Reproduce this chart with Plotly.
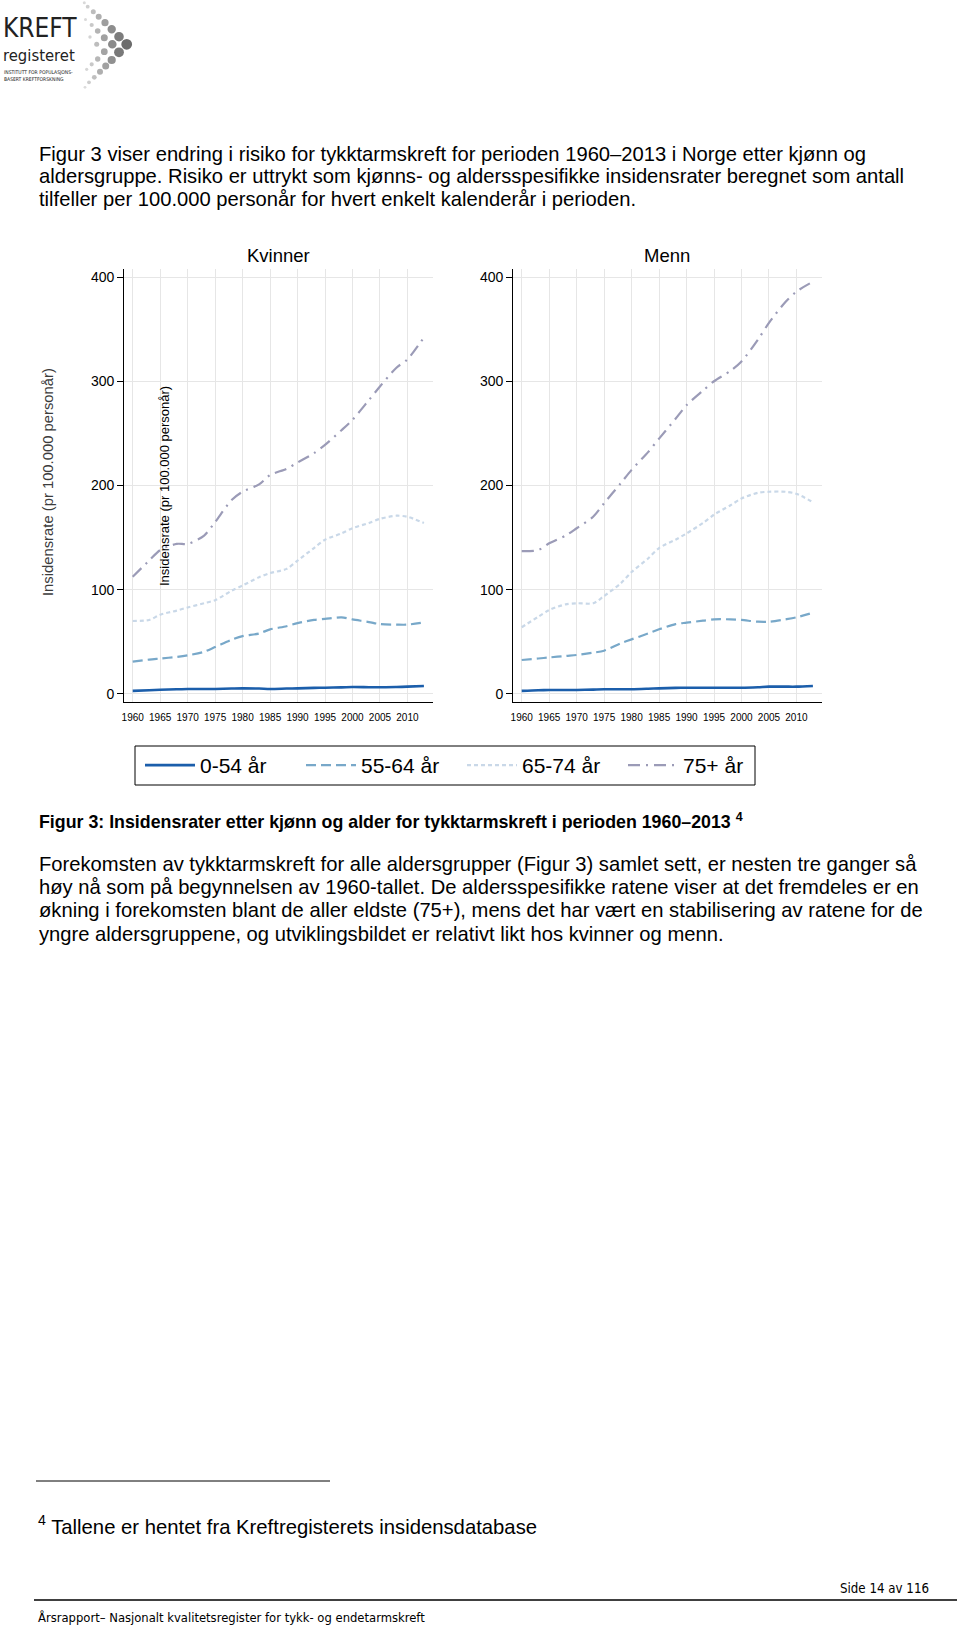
import plotly.graph_objects as go

# ---------------- data ----------------
years = [1960, 1963, 1965, 1968, 1970, 1973, 1975, 1978, 1980, 1983, 1985,
         1988, 1990, 1993, 1995, 1998, 2000, 2003, 2005, 2008, 2010, 2013]

kvinner_0_54 = [3.0, 3.6, 4.0, 4.5, 4.8, 4.8, 4.8, 5.2, 5.4, 5.2, 4.8,
                5.2, 5.4, 5.8, 6.0, 6.3, 6.7, 6.5, 6.4, 6.7, 7.0, 7.7]
kvinner_55_64 = [31, 33, 34, 35.5, 37, 40.5, 45, 52, 55.5, 58, 62,
                 65, 68, 71, 72, 73.5, 71.5, 69, 67, 66.5, 66.5, 68.7]
kvinner_65_74 = [70, 71, 76, 80, 83, 87, 90, 99, 104, 112, 116,
                 120, 128, 140, 148, 154, 159, 164, 168, 171, 170, 164]
kvinner_75 = [112.5, 128, 138, 144, 144, 152, 165, 186, 194, 201, 210,
              216, 222, 231, 239, 253, 263, 282, 295, 313, 321, 342]

menn_0_54 = [3.0, 3.6, 3.8, 3.8, 3.8, 4.2, 4.5, 4.5, 4.5, 5.0, 5.4,
             5.8, 6.0, 6.0, 6.0, 6.0, 6.0, 6.5, 7.0, 7.0, 7.0, 7.7]
menn_55_64 = [32.6, 34, 35, 36.5, 37.4, 39.6, 41.5, 48.6, 52.4, 58, 62,
              67, 68.4, 70.3, 71.6, 71.6, 71, 69.3, 69.3, 71.6, 73.5, 78]
menn_65_74 = [64, 74, 80.5, 86, 87, 87, 94, 106, 117, 130, 140,
              148, 154, 164, 172, 181, 187.5, 193, 194, 194, 192, 184]
menn_75 = [137, 138, 144.5, 152, 159, 170, 183, 202, 215, 232, 245,
           264, 277, 291, 300, 310, 319, 340, 356, 376, 386, 395.5]

age_groups = ["0-54 år", "55-64 år", "65-74 år", "75+ år"]
panel_titles = ["Kvinner", "Menn"]
x_ticks = [1960, 1965, 1970, 1975, 1980, 1985, 1990, 1995, 2000, 2005, 2010]
y_ticks = [0, 100, 200, 300, 400]

# ---------------- styling ----------------
W, H = 960, 1627
FONT = "Liberation Sans, Arial, Helvetica, sans-serif"
NARROW = "DejaVu Sans Condensed, Liberation Sans, Arial"
styles = [
    dict(color="#1b5eab", width=2.6, dash="solid"),
    dict(color="#78a8c9", width=2.2, dash="10px,5px"),
    dict(color="#c9d8e8", width=2.2, dash="4px,3px"),
    dict(color="#9b9bb7", width=2.2, dash="12px,6px,2px,6px"),
]

def px_x(x):
    return x / W

def px_y(y):
    return 1 - y / H

fig = go.Figure()

panels = [
    ("x", "y", [kvinner_0_54, kvinner_55_64, kvinner_65_74, kvinner_75]),
    ("x2", "y2", [menn_0_54, menn_55_64, menn_65_74, menn_75]),
]
for pi, (xa, ya, series) in enumerate(panels):
    for gi, vals in enumerate(series):
        fig.add_trace(go.Scatter(
            x=years, y=vals, mode="lines", name=age_groups[gi],
            legendgroup=age_groups[gi], showlegend=(pi == 0),
            line=dict(shape="spline", smoothing=0.8, **styles[gi]),
            xaxis=xa, yaxis=ya, hoverinfo="x+y+name",
        ))

axis_common_x = dict(
    range=[1958.47, 2014.6], tickvals=x_ticks, showgrid=True, gridcolor="#e6e6e6",
    gridwidth=1, showline=True, linecolor="black", linewidth=1.2, ticks="",
    ticklabelstandoff=6, tickfont=dict(family=FONT, size=10, color="black"),
    zeroline=False, automargin=False, fixedrange=True,
)
axis_common_y = dict(
    range=[-8, 407.4], tickvals=y_ticks, showgrid=True, gridcolor="#e6e6e6",
    gridwidth=1, showline=True, linecolor="black", linewidth=1.2, ticks="outside",
    ticklen=6, tickcolor="black", tickwidth=1.2,
    tickfont=dict(family=FONT, size=14, color="black"),
    zeroline=False, automargin=False, fixedrange=True,
)

y_dom = [px_y(702.3), px_y(269.3)]
fig.update_layout(
    xaxis=dict(domain=[px_x(124.3), px_x(432.7)], anchor="y", **axis_common_x),
    yaxis=dict(domain=y_dom, anchor="x", **axis_common_y),
    xaxis2=dict(domain=[px_x(513.3), px_x(821.7)], anchor="y2", **axis_common_x),
    yaxis2=dict(domain=y_dom, anchor="x2", **axis_common_y),
)

annotations = []

def ann(text, x, y, size, xanchor="left", family=FONT, color="black", textangle=0, yanchor="middle"):
    annotations.append(dict(
        text=text, x=px_x(x), y=px_y(y), xref="paper", yref="paper",
        xanchor=xanchor, yanchor=yanchor, showarrow=False, textangle=textangle,
        font=dict(family=family, size=size, color=color),
    ))

# panel titles
ann(panel_titles[0], 278, 255, 18.5, xanchor="center")
ann(panel_titles[1], 667, 255, 18.5, xanchor="center")

# y-axis titles (outer ghost one and inner one)
ann("Insidensrate (pr 100.000 personår)", 48, 482, 14.8, xanchor="center",
    color="#3c3c3c", textangle=-90)
ann("Insidensrate (pr 100.000 personår)", 164, 486, 13, xanchor="center",
    textangle=-90)

# page text
para1 = [
    "Figur 3 viser endring i risiko for tykktarmskreft for perioden 1960–2013 i Norge etter kjønn og",
    "aldersgruppe. Risiko er uttrykt som kjønns- og aldersspesifikke insidensrater beregnet som antall",
    "tilfeller per 100.000 personår for hvert enkelt kalenderår i perioden.",
]
for i, line in enumerate(para1):
    ann(line, 37, 153.5 + i * 22.8, 20.2)

ann("<b>Figur 3: Insidensrater etter kjønn og alder for tykktarmskreft i perioden 1960–2013 <sup>4</sup></b>",
    37, 821, 17.8)

para2 = [
    "Forekomsten av tykktarmskreft for alle aldersgrupper (Figur 3) samlet sett, er nesten tre ganger så",
    "høy nå som på begynnelsen av 1960-tallet. De aldersspesifikke ratene viser at det fremdeles er en",
    "økning i forekomsten blant de aller eldste (75+), mens det har vært en stabilisering av ratene for de",
    "yngre aldersgruppene, og utviklingsbildet er relativt likt hos kvinner og menn.",
]
for i, line in enumerate(para2):
    ann(line, 37, 863.5 + i * 23.4, 20.2)

ann("<sup>4</sup> Tallene er hentet fra Kreftregisterets insidensdatabase", 36, 1525, 20.3)
ann("Side 14 av 116", 931, 1588, 13.2, xanchor="right", family=NARROW)
ann("Årsrapport– Nasjonalt kvalitetsregister for tykk- og endetarmskreft", 36, 1617, 12.9, family=NARROW)

# logo text
ann("KREFT", 1, 28, 26, family=NARROW, color="#222")
ann("registeret", 1, 55, 16.5, family=NARROW, color="#222")
ann("INSTITUTT FOR POPULASJONS-", 2, 72, 5, family=NARROW, color="#222")
ann("BASERT KREFTFORSKNING", 2, 79, 5, family=NARROW, color="#222")

shapes = []
# legend frame
shapes.append(dict(type="rect", xref="paper", yref="paper",
                   x0=px_x(135), x1=px_x(755), y0=px_y(785), y1=px_y(746),
                   line=dict(color="black", width=1), fillcolor="rgba(0,0,0,0)"))
# footnote rule and footer rule
shapes.append(dict(type="line", xref="paper", yref="paper",
                   x0=px_x(36), x1=px_x(330), y0=px_y(1481), y1=px_y(1481),
                   line=dict(color="black", width=1)))
shapes.append(dict(type="line", xref="paper", yref="paper",
                   x0=px_x(34), x1=px_x(957), y0=px_y(1600), y1=px_y(1600),
                   line=dict(color="black", width=1.5)))

# logo spheres (decoration)
logo_spheres = [
    (84.3, 2.7, 1.5), (87.7, 6.7, 1.9), (93.3, 11.7, 2.5), (98.7, 16.7, 3.0),
    (105, 22.7, 3.6), (111.7, 29.3, 4.2), (119, 36.7, 4.8), (126.7, 44.3, 5.4),
    (85.5, 19.5, 1.5), (91.7, 25, 2.1), (97.7, 31, 2.8), (104.3, 37.7, 3.5),
    (112.3, 44.3, 4.3), (119, 52.3, 4.9),
    (90, 37, 1.7), (96.7, 44.3, 2.5), (104.3, 51.7, 3.4), (111.7, 60, 4.1),
    (97.7, 59, 2.7), (91.7, 64.3, 2.1), (86.7, 69.3, 1.6),
    (105.7, 66, 3.5), (100, 71.7, 3.0), (94.3, 77.3, 2.4), (89, 82.3, 1.9),
    (85, 87.3, 1.4),
]
for cx, cy, r in logo_spheres:
    shade = int(220 - (r - 1.4) * 28)
    shade = max(100, min(220, shade))
    col = f"rgb({shade},{shade},{shade})"
    shapes.append(dict(type="circle", xref="paper", yref="paper",
                       x0=px_x(cx - r), x1=px_x(cx + r), y0=px_y(cy + r), y1=px_y(cy - r),
                       line=dict(width=0), fillcolor=col))

fig.update_layout(
    width=W, height=H, autosize=False,
    margin=dict(l=0, r=0, t=0, b=0),
    paper_bgcolor="white", plot_bgcolor="white",
    font=dict(family=FONT, color="black"),
    annotations=annotations, shapes=shapes,
    legend=dict(
        orientation="h", x=px_x(140), y=px_y(745), xanchor="left", yanchor="top",
        bgcolor="rgba(0,0,0,0)", borderwidth=0,
        font=dict(family=FONT, size=21, color="black"),
        itemwidth=50, entrywidth=96, entrywidthmode="pixels",
        itemclick=False, itemdoubleclick=False,
    ),
)

fig.write_html("out.html")
